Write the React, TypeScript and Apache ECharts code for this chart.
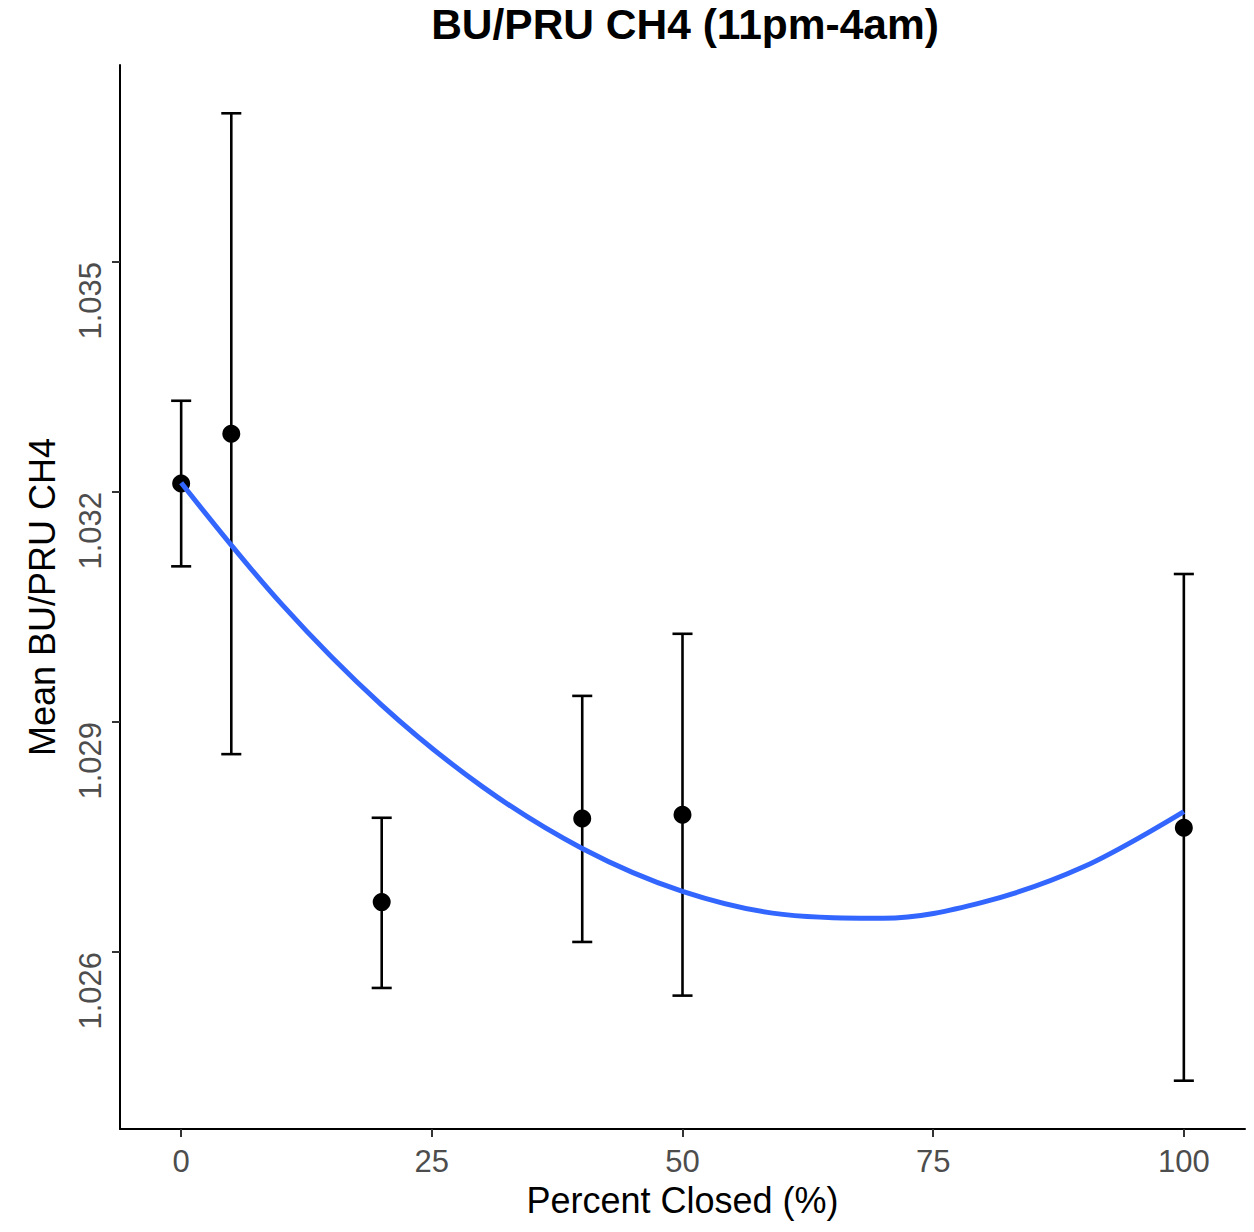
import React, { useEffect, useRef } from "react";
import * as echarts from "echarts";

const percentClosed = [0, 5, 20, 40, 50, 100];
const meanValues = [1.03211, 1.03276, 1.02665, 1.02774, 1.02779, 1.02762];
const upperValues = [1.03319, 1.03694, 1.02775, 1.02934, 1.03015, 1.03093];
const lowerValues = [1.03103, 1.02858, 1.02553, 1.02613, 1.02543, 1.02432];

const fitX = [0, 10, 20, 30, 40, 50, 60, 70, 80, 90, 100];
const fitY = [
  1.03212, 1.03054, 1.02922, 1.02816, 1.02735, 1.02679, 1.02649, 1.02644,
  1.02665, 1.02711, 1.02783,
];

const xTicks = [0, 25, 50, 75, 100];
const yTicks = [1.026, 1.029, 1.032, 1.035];

const FONT = "Liberation Sans, Arial, sans-serif";
const CAP_HALF = 1;

export default function App() {
  const ref = useRef<HTMLDivElement>(null);

  useEffect(() => {
    if (!ref.current) return;
    const chart = echarts.init(ref.current, undefined, { renderer: "svg" });

    const errData = percentClosed.map((x, i) => [x, lowerValues[i], upperValues[i]]);
    const ptData = percentClosed.map((x, i) => [x, meanValues[i]]);
    const fitData = fitX.map((x, i) => [x, fitY[i]]);

    chart.setOption({
      animation: false,
      backgroundColor: "#ffffff",
      title: {
        text: "BU/PRU CH4 (11pm-4am)",
        left: 680,
        top: -2,
        textAlign: "center",
        textStyle: {
          fontFamily: FONT,
          fontWeight: "bold",
          fontSize: 42.5,
          color: "#000000",
        },
      },
      grid: { left: 120, right: 9, top: 65, bottom: 103, containLabel: false },
      xAxis: {
        type: "value",
        min: -6.1,
        max: 106.1,
        name: "Percent Closed (%)",
        nameLocation: "middle",
        nameGap: 53,
        nameTextStyle: { fontFamily: FONT, fontSize: 36, color: "#000000" },
        axisLine: { onZero: false, lineStyle: { color: "#000000", width: 2 } },
        axisTick: {
          customValues: xTicks,
          length: 8,
          lineStyle: { color: "#333333", width: 2 },
        },
        axisLabel: {
          customValues: xTicks,
          color: "#4d4d4d",
          fontFamily: FONT,
          fontSize: 31,
          margin: 17,
        },
        splitLine: { show: false },
      },
      yAxis: {
        type: "value",
        min: 1.02369,
        max: 1.03757,
        name: "Mean BU/PRU CH4",
        nameLocation: "middle",
        nameGap: 60,
        nameRotate: 90,
        nameTextStyle: { fontFamily: FONT, fontSize: 36, color: "#000000" },
        axisLine: { onZero: false, lineStyle: { color: "#000000", width: 2 } },
        axisTick: {
          customValues: yTicks,
          length: 8,
          lineStyle: { color: "#333333", width: 2 },
        },
        axisLabel: {
          customValues: yTicks,
          color: "#4d4d4d",
          fontFamily: FONT,
          fontSize: 31,
          rotate: 90,
          align: "right",
          verticalAlign: "bottom",
          margin: 14,
          formatter: (v: number) => v.toFixed(3),
        },
        splitLine: { show: false },
      },
      series: [
        {
          type: "custom",
          z: 1,
          data: errData,
          encode: { x: 0, y: [1, 2] },
          renderItem: (params: any, api: any) => {
            const x = api.value(0);
            const lo = api.value(1);
            const hi = api.value(2);
            const top = api.coord([x, hi]);
            const bot = api.coord([x, lo]);
            const tl = api.coord([x - CAP_HALF, hi]);
            const tr = api.coord([x + CAP_HALF, hi]);
            const bl = api.coord([x - CAP_HALF, lo]);
            const br = api.coord([x + CAP_HALF, lo]);
            const style = { stroke: "#000000", lineWidth: 2.6 };
            return {
              type: "group",
              children: [
                { type: "line", shape: { x1: top[0], y1: top[1], x2: bot[0], y2: bot[1] }, style },
                { type: "line", shape: { x1: tl[0], y1: tl[1], x2: tr[0], y2: tr[1] }, style },
                { type: "line", shape: { x1: bl[0], y1: bl[1], x2: br[0], y2: br[1] }, style },
              ],
            };
          },
        },
        {
          type: "scatter",
          z: 2,
          data: ptData,
          symbol: "circle",
          symbolSize: 18,
          itemStyle: { color: "#000000", opacity: 1 },
        },
        {
          type: "line",
          z: 3,
          data: fitData,
          smooth: 0.35,
          symbol: "none",
          lineStyle: { color: "#3366FF", width: 5 },
        },
      ],
    });

    return () => chart.dispose();
  }, []);

  return (
    <div
      ref={ref}
      style={{ position: "absolute", left: 0, top: 0, width: 1254, height: 1232 }}
    />
  );
}
